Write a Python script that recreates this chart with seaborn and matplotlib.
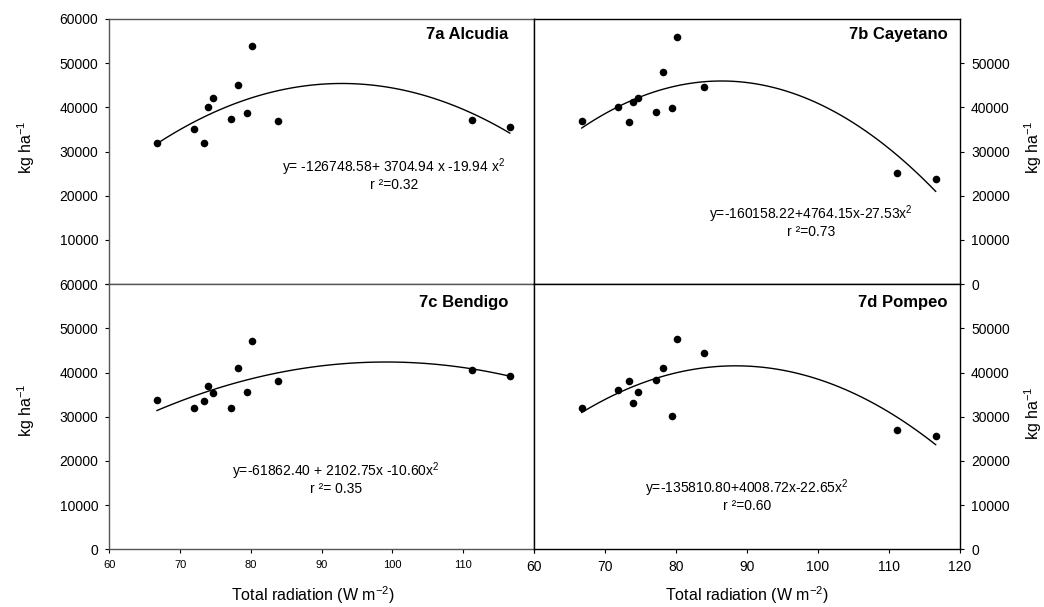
import pandas as pd
import matplotlib.pyplot as plt
import seaborn as sns

# radiation (W m-2) shared by the four sites
radiation = [66.7, 71.9, 73.4, 74.0, 74.7, 77.2, 78.2, 79.4, 80.1, 83.9, 111.2, 116.6]

# yield (kg ha-1)
alcudia = [32000, 35000, 31850, 40000, 42050, 37400, 45000, 38750, 53950, 36900, 37050, 35550]
cayetano = [36900, 40100, 36700, 41250, 42150, 38950, 48100, 39950, 56000, 44700, 25200, 23750]
bendigo = [33750, 32050, 33600, 36950, 35350, 31950, 41100, 35650, 47100, 38200, 40700, 39200]
pompeo = [32050, 36050, 38150, 33100, 35650, 38300, 41000, 30250, 47550, 44450, 27050, 25550]

titles = ['7a Alcudia', '7b Cayetano', '7c Bendigo', '7d Pompeo']
equations = ['y= -126748.58+ 3704.94 x -19.94 x$^2$',
             'y=-160158.22+4764.15x-27.53x$^2$',
             'y=-61862.40 + 2102.75x -10.60x$^2$',
             'y=-135810.80+4008.72x-22.65x$^2$']
r2_labels = ['r \u00b2=0.32', 'r \u00b2=0.73', 'r \u00b2= 0.35', 'r \u00b2=0.60']

x_ticks = [60, 70, 80, 90, 100, 110, 120]
y_ticks_left = [0, 10000, 20000, 30000, 40000, 50000, 60000]
y_ticks_right = [0, 10000, 20000, 30000, 40000, 50000]

df = pd.DataFrame({'radiation': radiation * 4,
                   'yield': alcudia + cayetano + bendigo + pompeo,
                   'site': [t for t in titles for _ in radiation]})

sns.set_style('ticks')
plt.rcParams['font.family'] = ['Liberation Sans', 'DejaVu Sans']
plt.rcParams['mathtext.fontset'] = 'custom'
plt.rcParams['mathtext.rm'] = 'Liberation Sans'
plt.rcParams['mathtext.it'] = 'Liberation Sans:italic'
plt.rcParams['mathtext.bf'] = 'Liberation Sans:bold'
plt.rcParams['text.color'] = 'black'
plt.rcParams['xtick.color'] = 'black'
plt.rcParams['ytick.color'] = 'black'

fig = plt.figure(figsize=(10.44, 6.07), dpi=100)
ax_a = fig.add_axes([0.1047, 0.5321, 0.4068, 0.4366])
ax_c = fig.add_axes([0.1047, 0.0951, 0.4068, 0.4366])
ax_b = fig.add_axes([0.5115, 0.5321, 0.4080, 0.4366])
ax_d = fig.add_axes([0.5115, 0.0951, 0.4080, 0.4366])
axes = [ax_a, ax_b, ax_c, ax_d]

# equation anchor (x centre, baseline of first line, baseline of second line)
eq_pos = [(100.2, 25400, 21400), (99.0, 14800, 10900),
          (92.0, 16700, 12800), (90.0, 12700, 8800)]
title_x = [0.940, 0.971, 0.940, 0.971]
title_y = [0.94, 0.94, 0.932, 0.932]

for i, ax in enumerate(axes):
    sub = df[df['site'] == titles[i]]
    sns.regplot(data=sub, x='radiation', y='yield', order=2, ci=None, truncate=True,
                ax=ax, color='black',
                scatter_kws={'s': 30, 'alpha': 1, 'linewidths': 0},
                line_kws={'lw': 1.0})
    ax.set_xlim(60, 120)
    ax.set_ylim(0, 60000)
    ax.set_xlabel('')
    ax.set_ylabel('')

    right = i in (1, 3)
    edge = 'black' if right else '#555555'
    for sp in ax.spines.values():
        sp.set_color(edge)
        sp.set_linewidth(1.0)

    ax.text(title_x[i], title_y[i], titles[i], transform=ax.transAxes,
            ha='right', va='center', fontsize=12, fontweight='bold')
    ex, ey1, ey2 = eq_pos[i]
    ax.text(ex, ey1, equations[i], ha='center', va='baseline', fontsize=10)
    ax.text(ex, ey2, r2_labels[i], ha='center', va='baseline', fontsize=10)

    ax.tick_params(axis='both', direction='out', length=3, width=0.8,
                   color='black', pad=5)
    if right:
        ax.yaxis.tick_right()
        ax.set_yticks(y_ticks_right)
        ax.set_yticklabels([str(v) for v in y_ticks_right], fontsize=10)
    else:
        ax.set_yticks(y_ticks_left)
        labels = [str(v) for v in y_ticks_left]
        if i == 0:
            # the bottom panel's 60000 sits on the same spot
            labels[0] = ''
        ax.set_yticklabels(labels, fontsize=10)

    if i < 2:
        ax.tick_params(axis='x', bottom=False, labelbottom=False)
    else:
        ax.set_xticks(x_ticks)
        if right:
            ax.set_xticklabels([str(v) for v in x_ticks], fontsize=10)
        else:
            ax.set_xticklabels([str(v) for v in x_ticks[:-1]] + [''], fontsize=8)

# axis titles
ylab = 'kg ha$^{-1}$'
fig.text(0.025, 0.758, ylab, rotation=90, ha='center', va='center', fontsize=11.5)
fig.text(0.025, 0.325, ylab, rotation=90, ha='center', va='center', fontsize=11.5)
fig.text(0.990, 0.758, ylab, rotation=90, ha='center', va='center', fontsize=11.5)
fig.text(0.990, 0.320, ylab, rotation=90, ha='center', va='center', fontsize=11.5)
xlab = 'Total radiation (W m$^{-2}$)'
fig.text(0.300, 0.020, xlab, ha='center', va='center', fontsize=11.5)
fig.text(0.7155, 0.020, xlab, ha='center', va='center', fontsize=11.5)

fig.savefig('out.png', dpi=100)
